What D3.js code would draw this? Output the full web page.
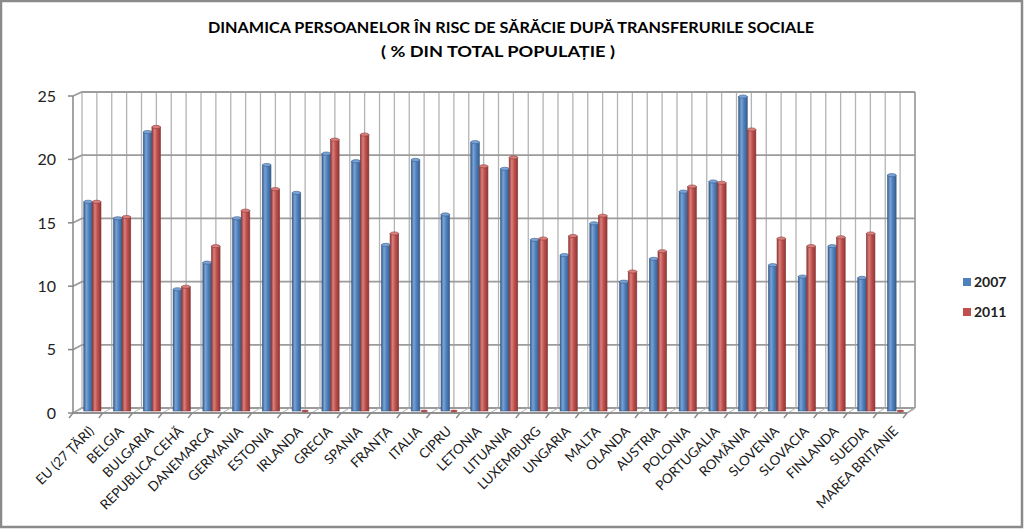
<!DOCTYPE html>
<html>
<head>
<meta charset="utf-8">
<script src="https://cdn.jsdelivr.net/npm/d3@7"></script>
<style>
  html, body { margin: 0; padding: 0; background: #fff; }
  svg { display: block; }
</style>
</head>
<body>
<div id="chart"></div>
<script>
const categories = [
  'EU (27 ȚĂRI)', 'BELGIA', 'BULGARIA', 'REPUBLICA CEHĂ', 'DANEMARCA', 'GERMANIA',
  'ESTONIA', 'IRLANDA', 'GRECIA', 'SPANIA', 'FRANȚA', 'ITALIA', 'CIPRU', 'LETONIA',
  'LITUANIA', 'LUXEMBURG', 'UNGARIA', 'MALTA', 'OLANDA', 'AUSTRIA', 'POLONIA',
  'PORTUGALIA', 'ROMÂNIA', 'SLOVENIA', 'SLOVACIA', 'FINLANDA', 'SUEDIA', 'MAREA BRITANIE'
]
const values2007 = [
  16.5, 15.2, 22.0, 9.6, 11.7, 15.2, 19.4, 17.2, 20.3, 19.7, 13.1, 19.8, 15.5, 21.2,
  19.1, 13.5, 12.3, 14.8, 10.2, 12.0, 17.3, 18.1, 24.8, 11.5, 10.6, 13.0, 10.5, 18.6
]
const values2011 = [
  16.5, 15.3, 22.4, 9.8, 13.0, 15.8, 17.5, 0, 21.4, 21.8, 14.0, 0, 0, 19.3,
  20.0, 13.6, 13.8, 15.4, 11.0, 12.6, 17.7, 18.0, 22.2, 13.6, 13.0, 13.7, 14.0, 0
]
const seriesNames = ['2007', '2011']
const yTicks = [0, 5, 10, 15, 20, 25]
const title = 'DINAMICA PERSOANELOR ÎN RISC DE SĂRĂCIE DUPĂ TRANSFERURILE SOCIALE'
const subtitle = '( % DIN TOTAL POPULAȚIE )'

const W = 1024
const H = 529
const colors = ['#4f81bd', '#c0504d']
const darks = ['#385d8a', '#8c3836']
const lights = ['#7aa3d6', '#d9807d']
const gridColor = '#9c9c9c'

// 3d box: front plane, back wall
const front = { x0: 73, x1: 907, y0: 413, y1: 96 }
const back = { x0: 82, x1: 915, y0: 408, y1: 92 }

const yFront = d3.scaleLinear().domain([0, 25]).range([front.y0, front.y1])
const yBack = d3.scaleLinear().domain([0, 25]).range([back.y0, back.y1])
const yMid = d3.scaleLinear().domain([0, 25]).range([411, 94])

const xFront = d3.scaleBand().domain(categories).range([front.x0, front.x1])
const xBack = d3.scaleBand().domain(categories).range([back.x0, back.x1])
const xMid = d3.scaleBand().domain(categories).range([(front.x0 + back.x0) / 2, (front.x1 + back.x1) / 2])

const svg = d3.select('#chart').append('svg')
  .attr('width', W)
  .attr('height', H)
  .attr('viewBox', `0 0 ${W} ${H}`)

const defs = svg.append('defs')
colors.forEach((c, i) => {
  const g = defs.append('linearGradient')
    .attr('id', 'grad' + i)
    .attr('x1', '0%').attr('x2', '100%')
  g.append('stop').attr('offset', '0%').attr('stop-color', darks[i])
  g.append('stop').attr('offset', '30%').attr('stop-color', lights[i])
  g.append('stop').attr('offset', '60%').attr('stop-color', c)
  g.append('stop').attr('offset', '100%').attr('stop-color', darks[i])
})

svg.append('rect')
  .attr('x', 1).attr('y', 1)
  .attr('width', W - 3).attr('height', H - 3)
  .attr('fill', '#fff')
  .attr('stroke', '#8a8a8a')
  .attr('stroke-width', 2.5)

// title
svg.append('text')
  .attr('x', 511).attr('y', 33)
  .attr('text-anchor', 'middle')
  .attr('font-family', 'Lato, sans-serif')
  .attr('font-weight', 'bold')
  .attr('font-size', 14.5)
  .attr('textLength', 606)
  .attr('lengthAdjust', 'spacingAndGlyphs')
  .text(title)

svg.append('text')
  .attr('x', 498).attr('y', 57)
  .attr('text-anchor', 'middle')
  .attr('font-family', 'Lato, sans-serif')
  .attr('font-weight', 'bold')
  .attr('font-size', 14.5)
  .attr('textLength', 234)
  .attr('lengthAdjust', 'spacingAndGlyphs')
  .text(subtitle)

const grid = svg.append('g').attr('class', 'grid')

// vertical gridlines on back wall (two per category)
const halfSteps = d3.range(0, categories.length * 2 + 1)
grid.selectAll('.vgrid')
  .data(halfSteps)
  .enter()
  .append('line')
  .attr('class', 'vgrid')
  .attr('x1', d => back.x0 + d * xBack.step() / 2)
  .attr('x2', d => back.x0 + d * xBack.step() / 2)
  .attr('y1', back.y1)
  .attr('y2', back.y0)
  .attr('stroke', '#b4b4b4')
  .attr('stroke-width', 1.3)

// horizontal gridlines: side wall diagonal + back wall line
grid.selectAll('.hgrid')
  .data(yTicks)
  .enter()
  .append('path')
  .attr('class', 'hgrid')
  .attr('d', d => `M${front.x0},${yFront(d)}L${back.x0},${yBack(d)}L${back.x1},${yBack(d)}`)
  .attr('fill', 'none')
  .attr('stroke', gridColor)
  .attr('stroke-width', 1.8)

// floor outline
grid.append('path')
  .attr('d', `M${front.x0},${front.y0}L${front.x1},${front.y0}L${back.x1},${back.y0}`)
  .attr('fill', 'none')
  .attr('stroke', gridColor)
  .attr('stroke-width', 1.5)

grid.append('line')
  .attr('x1', back.x1).attr('x2', back.x1)
  .attr('y1', back.y1).attr('y2', back.y0)
  .attr('stroke', gridColor)
  .attr('stroke-width', 1.5)

// floor gridlines
grid.selectAll('.fgrid')
  .data(d3.range(0, categories.length + 1))
  .enter()
  .append('line')
  .attr('class', 'fgrid')
  .attr('x1', d => front.x0 + d * xFront.step())
  .attr('y1', front.y0)
  .attr('x2', d => back.x0 + d * xBack.step())
  .attr('y2', back.y0)
  .attr('stroke', '#b4b4b4')
  .attr('stroke-width', 1)

// y axis
const axisY = svg.append('g').attr('class', 'axis axis--y')
axisY.append('line')
  .attr('x1', front.x0).attr('x2', front.x0)
  .attr('y1', front.y1).attr('y2', front.y0)
  .attr('stroke', '#868686')
  .attr('stroke-width', 1.5)
axisY.selectAll('.tick')
  .data(yTicks)
  .enter()
  .append('line')
  .attr('class', 'tick')
  .attr('x1', front.x0 - 5).attr('x2', front.x0)
  .attr('y1', d => yFront(d)).attr('y2', d => yFront(d))
  .attr('stroke', '#868686')
  .attr('stroke-width', 1.5)
axisY.selectAll('text')
  .data(yTicks)
  .enter()
  .append('text')
  .attr('x', 56)
  .attr('y', d => yFront(d))
  .attr('dy', '0.36em')
  .attr('text-anchor', 'end')
  .attr('font-family', 'Lato, sans-serif')
  .attr('font-size', 16)
  .attr('fill', '#222')
  .text(d => d)

// x axis
const axisX = svg.append('g').attr('class', 'axis axis--x')
axisX.append('line')
  .attr('x1', front.x0).attr('x2', front.x1)
  .attr('y1', front.y0).attr('y2', front.y0)
  .attr('stroke', '#868686')
  .attr('stroke-width', 1.5)
axisX.selectAll('.tick')
  .data(d3.range(0, categories.length + 1))
  .enter()
  .append('line')
  .attr('class', 'tick')
  .attr('x1', d => front.x0 + d * xFront.step())
  .attr('y1', front.y0)
  .attr('x2', d => front.x0 + d * xFront.step() - 4)
  .attr('y2', front.y0 + 5)
  .attr('stroke', '#868686')
  .attr('stroke-width', 1.3)
axisX.selectAll('text')
  .data(categories)
  .enter()
  .append('text')
  .attr('transform', d => {
    const cx = xFront(d) + xFront.bandwidth() / 2
    return `translate(${cx + 7},${front.y0 + 19}) rotate(-45)`
  })
  .attr('text-anchor', 'end')
  .attr('font-family', 'Lato, sans-serif')
  .attr('font-size', 13.5)
  .attr('fill', '#1a1a1a')
  .text(d => d)

// bars (cylinders)
const barW = 8.6
const plot = svg.append('g').attr('class', 'g-plot')
const series = [values2007, values2011]

series.forEach((vals, si) => {
  const data = categories.map((c, i) => ({ cat: c, value: vals[i] }))
  const bx = d => xMid(d.cat) + xMid.bandwidth() / 2 + (si === 0 ? -barW : 0)

  const bar = plot.selectAll('.bar-' + si)
    .data(data)
    .enter()
    .append('g')
    .attr('class', 'bar-' + si)

  bar.filter(d => d.value > 0)
    .append('rect')
    .attr('x', bx)
    .attr('y', d => yMid(d.value))
    .attr('width', barW)
    .attr('height', d => yMid(0) - yMid(d.value))
    .attr('fill', `url(#grad${si})`)
    .attr('stroke', darks[si])
    .attr('stroke-width', 0.6)

  bar.append('ellipse')
    .attr('cx', d => bx(d) + barW / 2)
    .attr('cy', d => yMid(d.value))
    .attr('rx', d => d.value > 0 ? barW / 2 : barW / 2.6)
    .attr('ry', d => d.value > 0 ? 1.6 : 0.9)
    .attr('fill', d => d.value > 0 ? lights[si] : colors[si])
    .attr('stroke', darks[si])
    .attr('stroke-width', 0.6)
})

// legend
const legend = svg.append('g')
  .attr('class', 'legend')
  .attr('transform', 'translate(963,278)')
  .selectAll('g')
  .data(seriesNames)
  .enter()
  .append('g')
  .attr('transform', (d, i) => `translate(0,${i * 30})`)

legend.append('rect')
  .attr('width', 8)
  .attr('height', 8)
  .attr('fill', (d, i) => colors[i])

legend.append('text')
  .attr('x', 11)
  .attr('y', 4)
  .attr('dy', '0.36em')
  .attr('font-family', 'Lato, sans-serif')
  .attr('font-weight', 'bold')
  .attr('font-size', 14)
  .attr('fill', '#222')
  .text(d => d)
</script>
</body>
</html>
